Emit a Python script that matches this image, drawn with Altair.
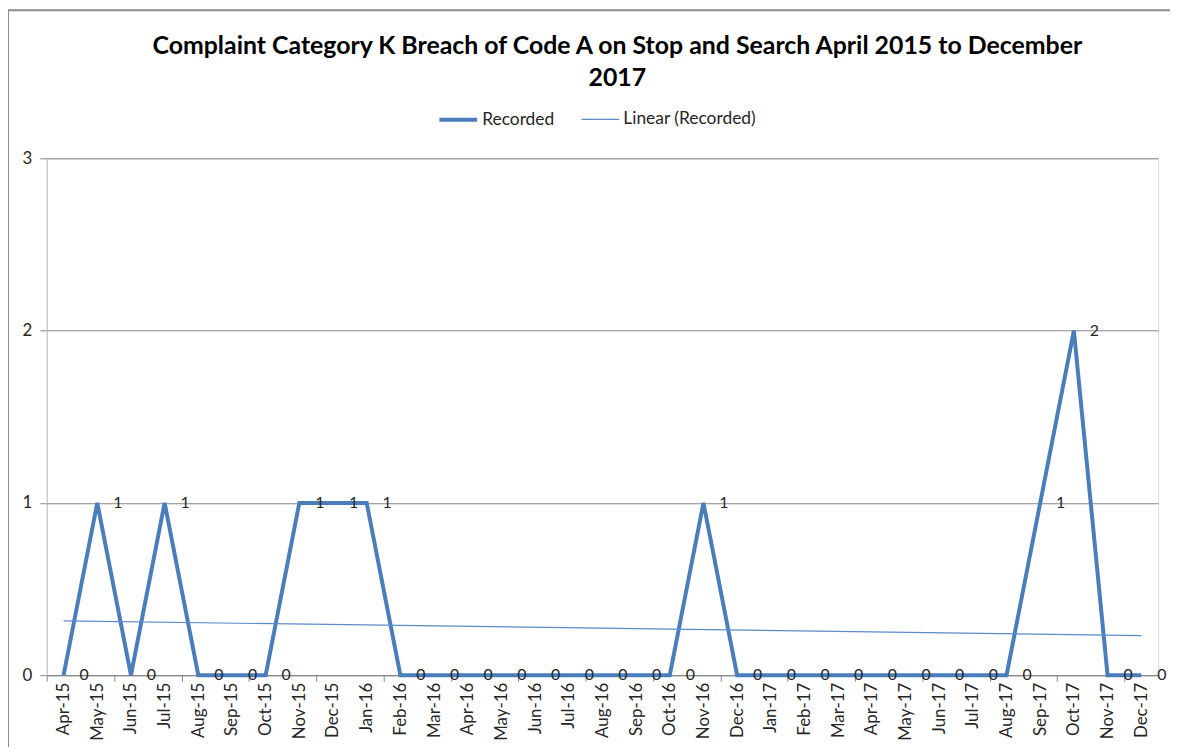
import altair as alt
import pandas as pd

months = ["Apr-15", "May-15", "Jun-15", "Jul-15", "Aug-15", "Sep-15", "Oct-15", "Nov-15",
          "Dec-15", "Jan-16", "Feb-16", "Mar-16", "Apr-16", "May-16", "Jun-16", "Jul-16",
          "Aug-16", "Sep-16", "Oct-16", "Nov-16", "Dec-16", "Jan-17", "Feb-17", "Mar-17",
          "Apr-17", "May-17", "Jun-17", "Jul-17", "Aug-17", "Sep-17", "Oct-17", "Nov-17",
          "Dec-17"]
recorded = [0, 1, 0, 1, 0, 0, 0, 1,
            1, 1, 0, 0, 0, 0, 0, 0,
            0, 0, 0, 1, 0, 0, 0, 0,
            0, 0, 0, 0, 0, 1, 2, 0,
            0]
series_names = ["Recorded", "Linear (Recorded)"]

df = pd.DataFrame({"i": list(range(len(months))), "month": months, "v": recorded,
                   "series": series_names[0]})

FONT = "Lato"
TXT = "#262626"
GRID = "#868686"
BLUE = "#4a7ebb"
n = len(months)
label_expr = "[" + ",".join("'%s'" % m for m in months) + "][round(datum.value)]"
tick_vals = [k - 0.5 for k in range(0, n + 1, 2)]

xscale = alt.Scale(domain=[-0.5, n - 0.5], nice=False, zero=False)
yscale = alt.Scale(domain=[0, 3], nice=False)

color_scale = alt.Scale(domain=series_names, range=[BLUE, "#5b8bc9"])
sw_scale = alt.Scale(domain=series_names, range=[4, 1.2])
leg = alt.Legend(title=None, orient="none", legendX=393, legendY=-60, direction="horizontal",
                 symbolType="stroke", symbolSize=1444, labelFont=FONT, labelFontSize=17.5,
                 labelColor=TXT, columnPadding=24, labelOffset=3,
                 symbolStrokeWidth=alt.ExprRef(expr="datum.value == 'Recorded' ? 4 : 1.2"))

base = alt.Chart(df)

line = base.mark_line(strokeJoin="miter").encode(
    x=alt.X("i:Q", scale=xscale,
            axis=alt.Axis(values=list(range(n)), labelExpr=label_expr, labelAngle=270,
                          labelFont=FONT, labelFontSize=17, labelColor=TXT, ticks=False,
                          domain=True, domainColor=GRID, grid=False, title=None,
                          labelPadding=7, labelOverlap=False, orient="bottom")),
    y=alt.Y("v:Q", scale=yscale,
            axis=alt.Axis(values=[0, 1, 2, 3], format="d", grid=True, gridColor=GRID,
                          domainColor="#bfbfbf", tickColor=GRID, tickSize=7,
                          labelFont=FONT, labelFontSize=17, labelColor=TXT,
                          labelPadding=8, title=None)),
    color=alt.Color("series:N", scale=color_scale, legend=leg),
    strokeWidth=alt.StrokeWidth("series:N", scale=sw_scale, legend=None),
)

trend = base.transform_regression("i", "v", method="linear", extent=[0, n - 1]).transform_calculate(
    series="'Linear (Recorded)'"
).mark_line().encode(
    x=alt.X("i:Q", scale=xscale,
            axis=alt.Axis(values=tick_vals, labels=False, ticks=True, tickSize=6,
                          tickColor=GRID, domain=False, grid=False, title=None,
                          orient="bottom")),
    y=alt.Y("v:Q", scale=yscale),
    color=alt.Color("series:N", scale=color_scale, legend=leg),
    strokeWidth=alt.StrokeWidth("series:N", scale=sw_scale, legend=None),
)

labels = base.mark_text(align="left", baseline="middle", dx=16, font=FONT, fontSize=16,
                        color=TXT, clip=False).encode(
    x=alt.X("i:Q", scale=xscale, axis=None),
    y=alt.Y("v:Q", scale=yscale),
    text=alt.Text("v:Q", format="d"),
)

border = alt.Chart(pd.DataFrame({"a": [0]})).mark_rect(
    fill=None, stroke="#8c8c8c", strokeWidth=2, clip=False
).encode(x=alt.value(-39), x2=alt.value(1140), y=alt.value(-149), y2=alt.value(700))

chart = alt.layer(border, line, trend, labels).resolve_axis(x="independent").properties(
    width=1118,
    height=520,
    padding={"left": 39, "top": 149, "right": 12, "bottom": 70},
    autosize=alt.AutoSizeParams(type="none"),
    title=alt.TitleParams(
        ["Complaint Category K Breach of Code A on Stop and Search April 2015 to December", "2017"],
        font=FONT, fontSize=25, fontWeight="bold", color="#000000", anchor="middle",
        frame="group", lineHeight=32, offset=0, dy=82, dx=15),
).configure_view(stroke=None).configure(background="white")

chart.save("out.html", embed_options={"renderer": "svg", "actions": False})
